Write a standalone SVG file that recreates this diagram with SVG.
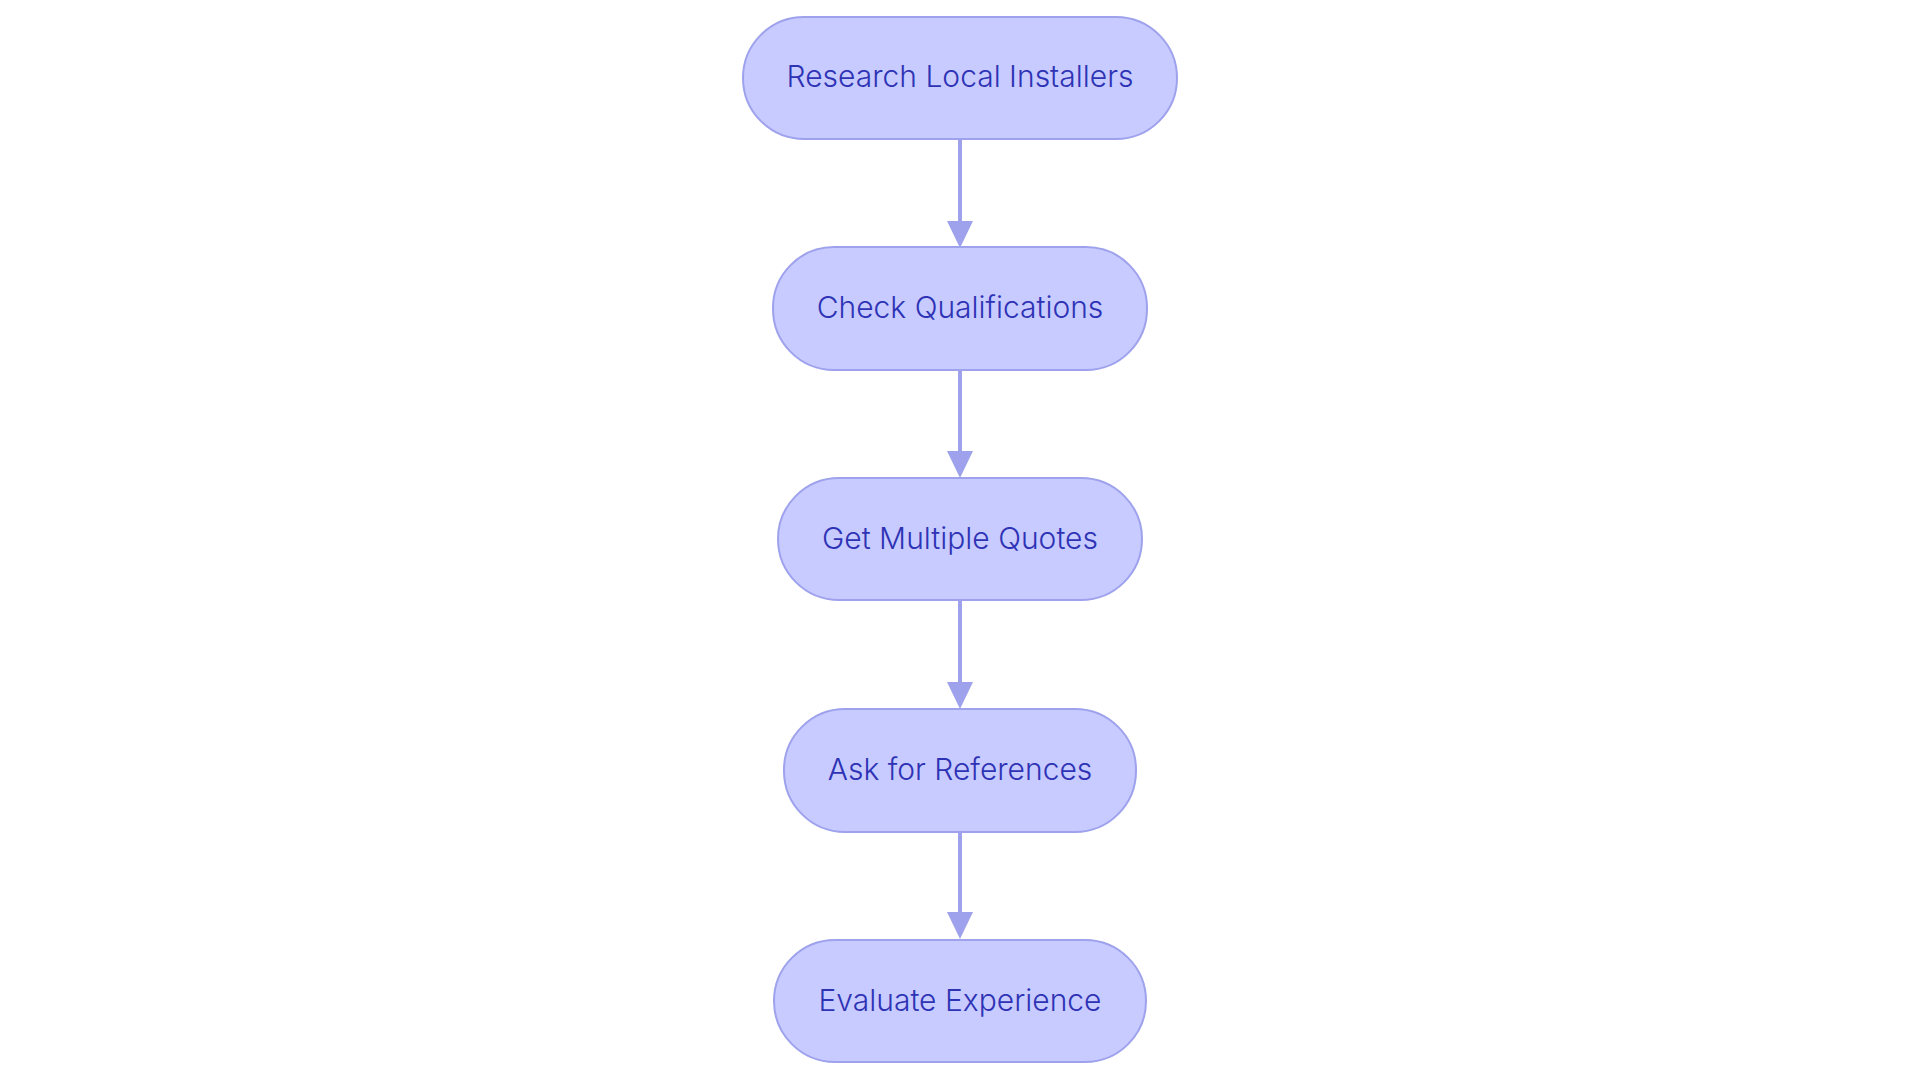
<svg xmlns="http://www.w3.org/2000/svg" width="1920" height="1083" viewBox="0 0 1920 1083">
<style>
.node rect{fill:#c8cbff;stroke:#9ea2ec;stroke-width:2}
.node text{font-family:Inter,"Noto Sans",sans-serif;font-size:30px;font-weight:300;fill:#2e33b5;text-anchor:middle}
.edge{stroke:#9ea2ec;stroke-width:4;fill:none}
.head{fill:#9ea2ec}
</style>
<rect width="1920" height="1083" fill="#ffffff"/>
<g id="connectors">
<line class="edge" x1="960" y1="140" x2="960" y2="222"/>
<path class="head" d="M947,221 L973,221 L960,248 Z"/>
<line class="edge" x1="960" y1="370" x2="960" y2="452"/>
<path class="head" d="M947,451 L973,451 L960,478 Z"/>
<line class="edge" x1="960" y1="600" x2="960" y2="683"/>
<path class="head" d="M947,682 L973,682 L960,709 Z"/>
<line class="edge" x1="960" y1="832" x2="960" y2="913"/>
<path class="head" d="M947,912 L973,912 L960,939 Z"/>
</g>
<g id="n1" class="node">
<rect x="743" y="17" width="434" height="122" rx="61"/>
<text x="960" y="87">Research Local Installers</text>
</g>
<g id="n2" class="node">
<rect x="773" y="247" width="374" height="123" rx="61"/>
<text x="960" y="318">Check Qualifications</text>
</g>
<g id="n3" class="node">
<rect x="778" y="478" width="364" height="122" rx="61"/>
<text x="960" y="549">Get Multiple Quotes</text>
</g>
<g id="n4" class="node">
<rect x="784" y="709" width="352" height="123" rx="61"/>
<text x="960" y="780">Ask for References</text>
</g>
<g id="n5" class="node">
<rect x="774" y="940" width="372" height="122" rx="61"/>
<text x="960" y="1011">Evaluate Experience</text>
</g>
</svg>
